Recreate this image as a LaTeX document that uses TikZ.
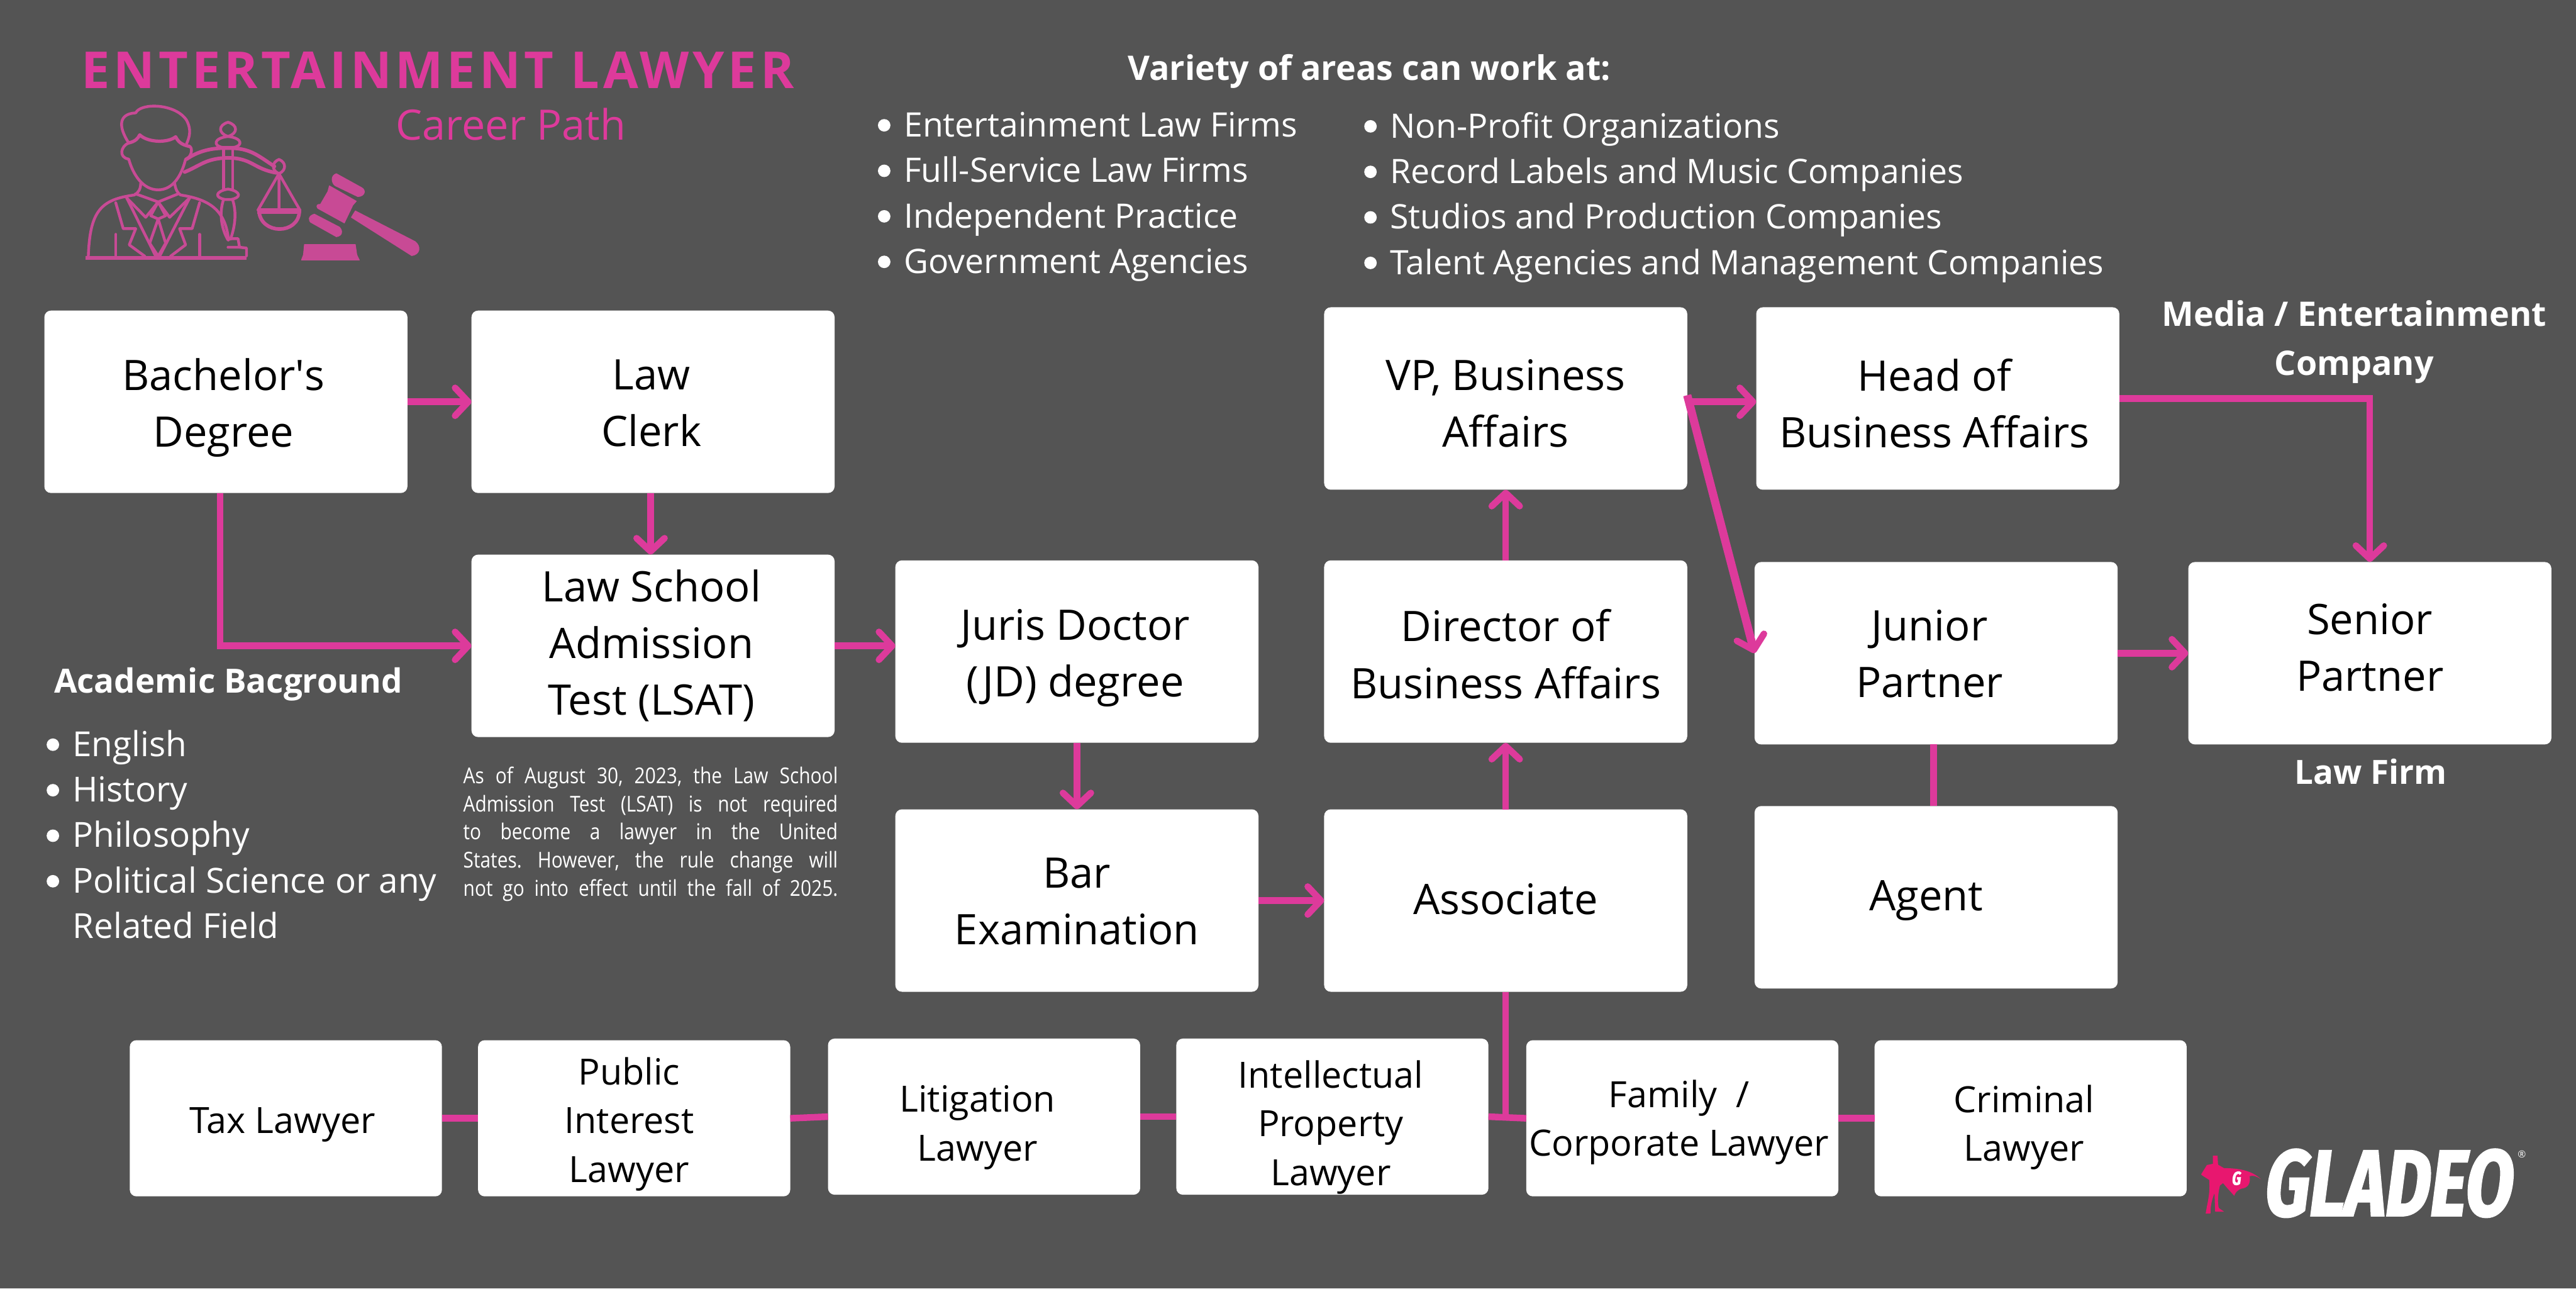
\documentclass[tikz,border=0pt]{standalone}
\usepackage{fontspec}
\setmainfont{Open Sans}
\newfontfamily\notefont[FakeStretch=0.86]{Open Sans}
\newfontfamily\logofont[FakeSlant=0.13,FakeStretch=0.735,FakeBold=2]{Fira Sans}
\usetikzlibrary{arrows.meta}
\definecolor{bgc}{HTML}{545454}
\definecolor{pk}{HTML}{DD3A9B}
\definecolor{ic}{HTML}{C84A95}
\definecolor{hero}{HTML}{E8176F}
\newcommand{\lbul}{\makebox[12pt][l]{\smash{\makebox[0pt][c]{\raisebox{3.2pt}{\tikz\fill[white] (0,0) circle (3.8pt);}}}}}
\newcommand{\jline}[1]{\makebox[228pt][s]{#1}}
\newcommand{\sq}{\XeTeXglyph\XeTeXcharglyph"27 }
\newcommand{\bx}[7]{\node[#1,label={[#1txt,xshift=#5pt,yshift=-#6pt]center:{#7}}] (#2) at (#3,#4) {};}
\tikzset{
  stepbox/.style={fill=white,rounded corners=4pt,inner sep=0pt,outer sep=0pt,minimum width=221pt,minimum height=111pt},
  stepboxtxt/.style={inner sep=0pt,outer sep=0pt,align=center,text=black,font=\fontsize{25.6}{34.5}\selectfont},
  lowbox/.style={stepbox,minimum width=190pt,minimum height=95pt},
  lowboxtxt/.style={inner sep=0pt,outer sep=0pt,align=center,text=black,font=\fontsize{22}{29.7}\selectfont},
  arr/.style={draw=pk,line width=4pt,-{Straight Barb[length=8pt,width=17pt,round,line width=4pt]}},
  lk/.style={draw=pk,line width=4pt},
  head/.style={text=white,inner sep=0pt,font=\fontsize{20.6}{30}\selectfont\bfseries,align=center},
  listt/.style={text=white,inner sep=0pt,anchor=north west,align=left,font=\fontsize{20.5}{27.7}\selectfont},
  ics/.style={draw=ic,line width=1.7pt,line join=round,line cap=round},
  icf/.style={fill=ic,draw=ic,line width=.4pt,line join=round}
}
\begin{document}
\begin{tikzpicture}[x=1pt,y=-1pt]
\useasboundingbox (0,0) rectangle (1568,784);
\fill[bgc] (0,0) rectangle (1568,784);
% icon
\begin{scope}[shift={(34,18.1)},x=0.3038pt,y=-0.0984pt]
 \draw[ics] (146,700) .. controls (125,600) and (125,520) .. (160,514) .. controls (170,450) and (240,455) .. (262,560) .. controls (272,620) and (268,660) .. (262,705);
 \draw[ics,line width=2pt] (146,700) .. controls (160,690) and (165,670) .. (168,650) .. controls (185,700) and (225,700) .. (240,662) .. controls (245,690) and (250,710) .. (268,722);
 \draw[ics] (146,700) .. controls (130,720) and (125,790) .. (146,800) .. controls (155,900) and (175,990) .. (205,990) .. controls (235,990) and (252,900) .. (260,800) .. controls (272,790) and (275,730) .. (268,722);
 \draw[ics] (170,950) .. controls (170,985) and (165,1010) .. (157,1022) .. controls (90,1050) and (68,1120) .. (65,1405);
 \draw[ics] (238,950) .. controls (240,985) and (243,1010) .. (250,1022) .. controls (310,1050) and (340,1120) .. (346,1300);
 \draw[ics] (160,1015) -- (205,1065) -- (245,1015);
 \draw[ics] (142,1040) -- (180,1160) -- (205,1065) -- (228,1160) -- (268,1040);
 \draw[ics] (142,1040) -- (200,1400) (268,1040) -- (208,1400);
 \draw[ics] (205,1065) -- (190,1150) -- (205,1170) -- (220,1150) -- (205,1065);
 \draw[ics] (205,1170) -- (188,1320) -- (205,1400) -- (220,1320) -- (205,1170);
 \draw[ics] (120,1070) -- (135,1230) -- (160,1230) -- (147,1330) -- (178,1400);
 \draw[ics] (288,1070) -- (273,1230) -- (248,1230) -- (260,1330) -- (230,1400);
 \draw[ics] (120,1265) -- (120,1400) (288,1265) -- (288,1400);
 \fill[ic] (60,1398) -- (382,1398) -- (382,1424) -- (60,1424) -- cycle;
 % scales
 \draw[ics] (345,572) .. controls (325,590) and (325,640) .. (345,660) .. controls (365,640) and (365,590) .. (345,572);
 \draw[ics] (345,660) .. controls (315,670) and (315,720) .. (335,728) -- (355,728) .. controls (375,720) and (375,670) .. (345,660);
 \draw[ics] (336,728) -- (336,985) (354,728) -- (354,985);
 \draw[ics] (345,985) .. controls (318,1000) and (318,1040) .. (340,1050) -- (350,1050) .. controls (372,1040) and (372,1000) .. (345,985);
 \draw[ics] (336,1050) .. controls (325,1150) and (335,1250) .. (345,1300) (354,1050) .. controls (365,1150) and (355,1250) .. (350,1295);
 \draw[ics] (345,1292) -- (365,1292) -- (368,1345) -- (382,1350) -- (382,1398) (345,1345) -- (368,1345);
 \draw[ics,line width=2.2pt] (262,800) .. controls (290,740) and (320,730) .. (345,732) .. controls (390,730) and (405,780) .. (438,845);
 \draw[ics,line width=2.2pt] (258,880) .. controls (290,840) and (300,795) .. (345,792) .. controls (395,795) and (395,860) .. (442,885);
 \draw[ics] (447,802) .. controls (432,820) and (432,870) .. (447,890) .. controls (462,870) and (462,820) .. (447,802);
 \draw[ics] (447,890) -- (405,1115) (447,890) -- (489,1115) (447,900) -- (447,1110);
 \fill[ic] (403,1105) -- (491,1105) -- (491,1137) -- (403,1137) -- cycle;
 \draw[ics,line width=2.2pt] (407,1120) .. controls (410,1270) and (487,1270) .. (488,1120);
 % gavel
 \fill[icf] (562,890) .. controls (550,900) and (552,950) .. (560,965) -- (605,1032) .. controls (620,1030) and (622,990) .. (612,975) -- cycle;
 \fill[icf] (548,965) -- (602,1060) -- (595,1085) -- (578,1195) -- (525,1105) .. controls (520,1085) and (525,1078) .. (530,1080) -- (545,1000) -- cycle;
 \fill[icf] (518,1140) .. controls (505,1150) and (505,1185) .. (513,1195) -- (562,1280) .. controls (575,1275) and (575,1240) .. (568,1220) -- cycle;
 \fill[icf] (600,1120) -- (720,1310) .. controls (732,1340) and (730,1390) .. (713,1397) -- (592,1160) -- cycle;
 \fill[icf] (498,1328) -- (600,1328) -- (603,1392) -- (608,1424) -- (492,1424) -- (496,1392) -- cycle;
\end{scope}
% headings
\node[inner sep=0pt,text=pk,font=\fontsize{31}{36}\selectfont\bfseries\addfontfeature{LetterSpace=7.2}] (title) at (266.5,42.5) {ENTERTAINMENT LAWYER};
\node[inner sep=0pt,text=pk,font=\fontsize{25.5}{30}\selectfont] (sub) at (311,75.5) {Career Path};
\node[head] (variety) at (833.5,43.5) {Variety of areas can work at:};
\node[listt] (l1) at (538,68) {\lbul Entertainment Law Firms\\\lbul Full-Service Law Firms\\\lbul Independent Practice\\\lbul Government Agencies};
\node[listt] (l2) at (834,68) {\lbul Non-Profit Organizations\\\lbul Record Labels and Music Companies\\\lbul Studios and Production Companies\\\lbul Talent Agencies and Management Companies};
\node[head,font=\fontsize{20.3}{30}\selectfont\bfseries] (acad) at (139,416.5) {Academic Bacground};
\node[listt,font=\fontsize{21}{27.7}\selectfont] (l3) at (32,444) {\lbul English\\\lbul History\\\lbul Philosophy\\\lbul Political Science or any\\\makebox[12pt]{}Related Field};
\node[head] (media) at (1433,208) {Media / Entertainment\\Company};
\node[head,font=\fontsize{20.3}{30}\selectfont\bfseries] (lawfirm) at (1443,469.5) {Law Firm};
\node[inner sep=0pt,text=white,align=left,font=\notefont\fontsize{13.3}{17.1}\selectfont\frenchspacing] (note) at (396,507.5) {\jline{As of August 30, 2023, the Law School}\\\jline{Admission Test (LSAT) is not required}\\\jline{to become a lawyer in the United}\\\jline{States. However, the rule change will}\\\jline{not go into effect until the fall of 2025.}};
% boxes
\bx{stepbox}{bach}{137.5}{244.5}{-1.5}{3.5}{Bachelor\sq s\\Degree}
\bx{stepbox}{clerk}{397.5}{244.5}{-1}{1}{Law\\Clerk}
\bx{stepbox}{lsat}{397.5}{393}{-1}{0}{Law School\\Admission\\Test (LSAT)}
\bx{stepbox}{jd}{655.5}{396.5}{-1}{4}{Juris Doctor\\(JD) degree}
\bx{stepbox}{bar}{655.5}{548}{0}{0.5}{Bar\\Examination}
\bx{stepbox}{assoc}{916.5}{548}{0}{-1}{Associate}
\bx{stepbox}{dir}{916.5}{396.5}{0}{1.5}{Director of\\Business Affairs}
\bx{stepbox}{vp}{916.5}{242.5}{0}{3}{VP, Business\\Affairs}
\bx{stepbox}{headba}{1179.5}{242.5}{-2}{3}{Head of\\Business Affairs}
\bx{stepbox}{jun}{1178.5}{397.5}{-4}{0.5}{Junior\\Partner}
\bx{stepbox}{agent}{1178.5}{546}{-6}{2}{Agent}
\bx{stepbox}{senior}{1442.5}{397.5}{0}{-3.5}{Senior\\Partner}
\bx{lowbox}{tax}{174}{680.5}{-2}{4}{Tax Lawyer}
\bx{lowbox}{pub}{386}{680.5}{-3}{3.5}{Public\\Interest\\Lawyer}
\bx{lowbox}{lit}{599}{679.5}{-4}{6.5}{Litigation\\Lawyer}
\bx{lowbox}{ip}{811}{679.5}{-1}{6.5}{Intellectual\\Property\\Lawyer}
\bx{lowbox}{fam}{1024}{680.5}{-2}{2.5}{Family\ \ /\\Corporate Lawyer}
\bx{lowbox}{crim}{1236}{680.5}{-4}{5.5}{Criminal\\Lawyer}
\coordinate (bus) at (916.5,681.5);
% connectors
\draw[arr] (bach.east) -- (clerk.west);
\draw[arr] ([xshift=-3.5pt]bach.south) |- (lsat.west);
\draw[arr] ([xshift=-1.5pt]clerk.south) -- ([xshift=-1.5pt]lsat.north);
\draw[arr] (lsat.east) -- (lsat.east -| jd.west);
\draw[arr] (jd.south) -- (bar.north);
\draw[arr] (bar.east) -- (assoc.west);
\draw[arr] (assoc.north) -- (dir.south);
\draw[arr] (dir.north) -- (vp.south);
\draw[arr] ([yshift=-2pt]vp.east) -- ([yshift=-2pt]headba.west);
\draw[arr,line width=5pt] ([yshift=2pt]vp.east) -- (jun.west);
\draw[arr] (headba.east) -| (senior.north);
\draw[arr] (jun.east) -- (senior.west);
\draw[lk] ([xshift=-1.5pt]jun.south) -- ([xshift=-1.5pt]agent.north);
\draw[lk] (assoc.south) -- (bus);
\draw[lk] (tax.east) -- (pub.west);
\draw[lk] (pub.east) -- (lit.west);
\draw[lk] (lit.east) -- (ip.west);
\draw[lk] (ip.east) -- (fam.west);
\draw[lk] (fam.east) -- (crim.west);
% logo
\begin{scope}[shift={(1315.8,680.6)},x=0.1447pt,y=-0.0756pt]
 \fill[hero] (215,300) -- (235,300) -- (237,372) -- (262,400) .. controls (340,400) and (385,430) .. (418,490) .. controls (400,465) and (385,455) .. (370,465) .. controls (375,530) and (360,560) .. (335,565) .. controls (315,580) and (310,600) .. (305,622) .. controls (290,590) and (275,560) .. (258,520) -- (245,540) .. controls (235,620) and (235,680) .. (240,720) -- (262,750) -- (225,750) -- (222,600) .. controls (212,650) and (205,700) .. (205,765) -- (185,765) -- (190,710) .. controls (200,620) and (203,560) .. (200,495) .. controls (180,470) and (170,460) .. (166,450) -- (190,375) -- (215,365) -- cycle;
\end{scope}
\node[inner sep=0pt,text=white,font=\logofont\fontsize{11.5}{12}\selectfont\bfseries] (g) at (1361,717) {G};
\node[inner sep=0pt,text=white,font=\logofont\fontsize{57}{57}\selectfont\bfseries] (gladeo) at (1452.5,720) {GLADEO};
\node[inner sep=0pt,text=white,font=\fontsize{6}{6}\selectfont] (reg) at (1535,702.4) {®};
\end{tikzpicture}
\end{document}
